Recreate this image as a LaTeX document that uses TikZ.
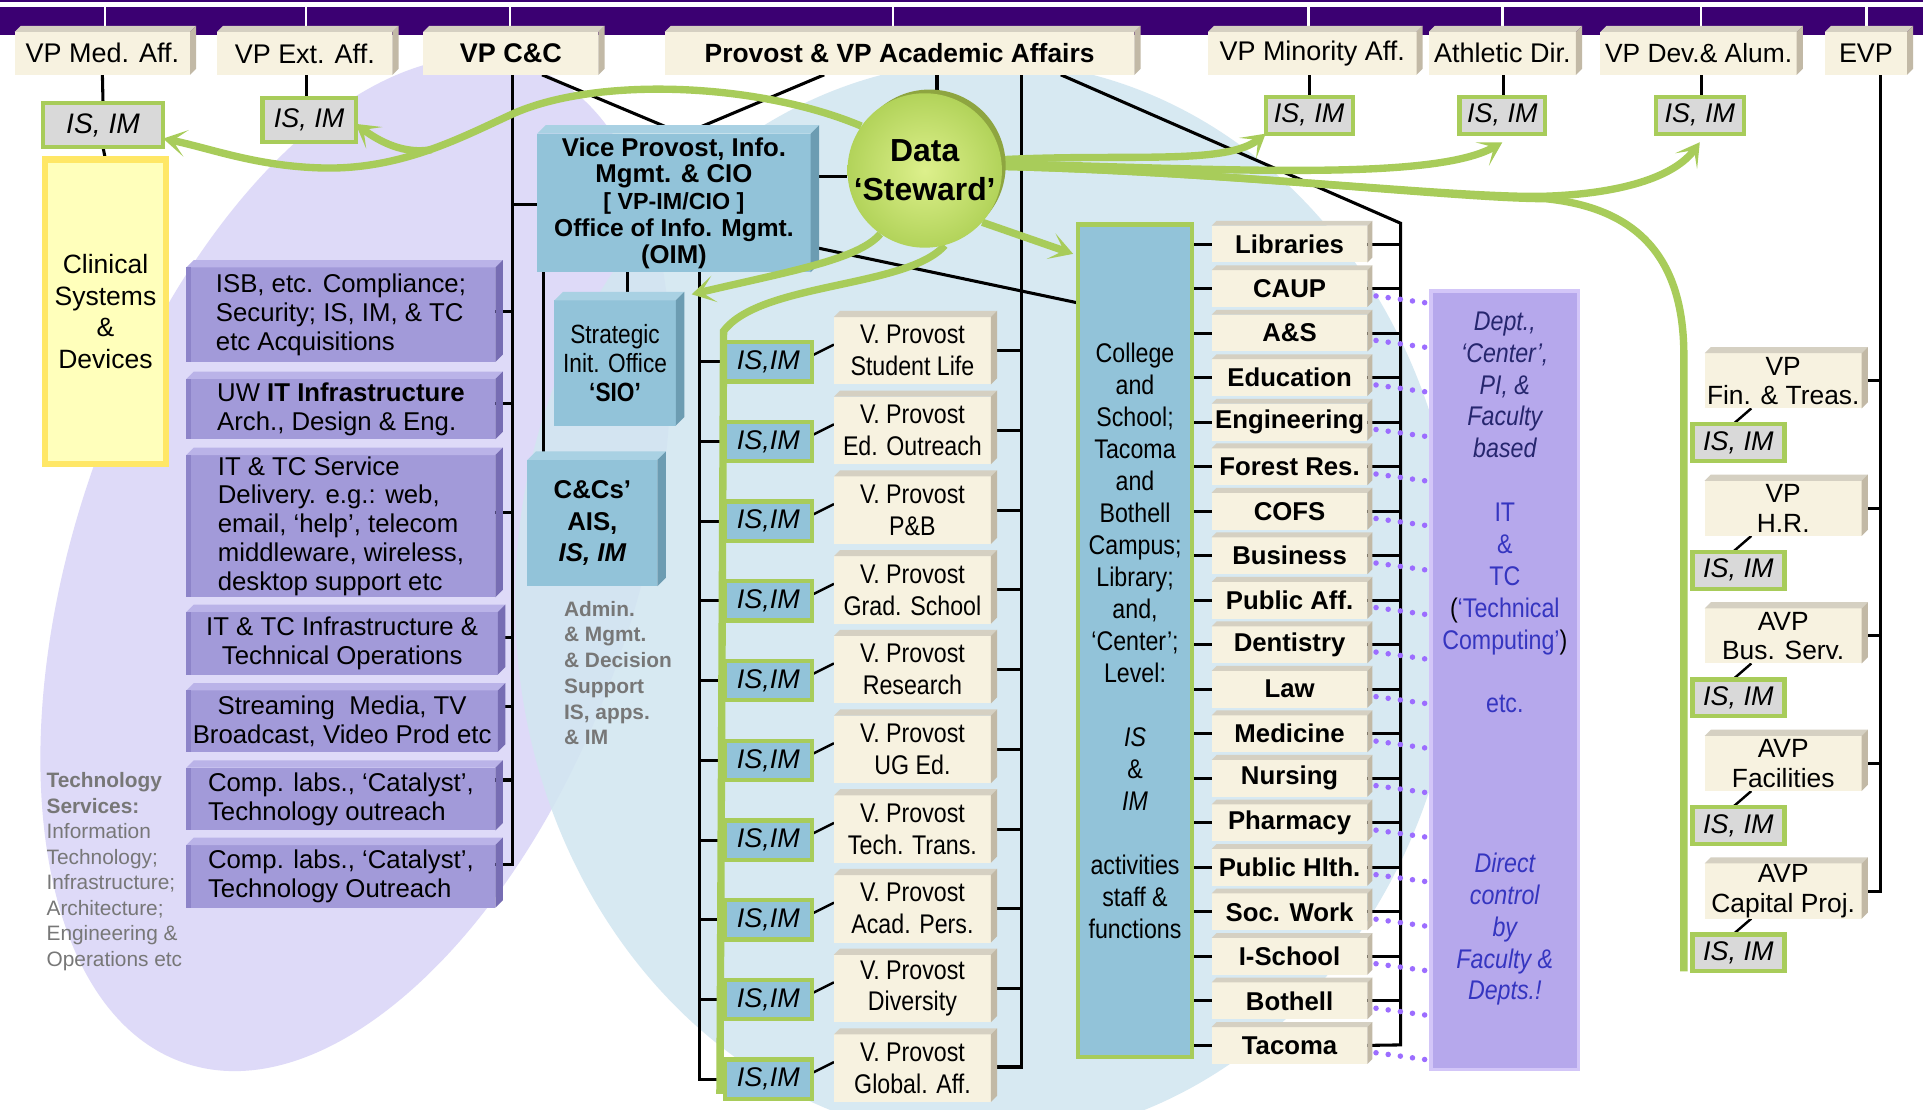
\documentclass[tikz,border=0pt]{standalone}
\usepackage{fontspec}
\setmainfont{Liberation Sans}
\newfontfamily\nar[FakeStretch=0.86]{Liberation Sans}
\usetikzlibrary{arrows.meta,calc}
\pgfdeclarelayer{bg}
\pgfdeclarelayer{lines}
\pgfdeclarelayer{green}
\pgfdeclarelayer{fg}
\pgfsetlayers{bg,lines,main,green,fg}
\definecolor{band}{HTML}{3B0072}
\definecolor{bgfront}{HTML}{F7F2E0}
\definecolor{bgtop}{HTML}{D5D0C2}
\definecolor{bgside}{HTML}{C2B9A6}
\definecolor{pfront}{HTML}{A29AD9}
\definecolor{ptop}{HTML}{BAB3E8}
\definecolor{pside}{HTML}{776DB3}
\definecolor{pleft}{HTML}{8D84C9}
\definecolor{bfront}{HTML}{92C3D9}
\definecolor{btop}{HTML}{A9D1E3}
\definecolor{bside}{HTML}{6C9CB2}
\definecolor{grn}{HTML}{A8CC5A}
\definecolor{isgrey}{HTML}{D9D9D9}
\definecolor{lav}{HTML}{DEDAF8}
\definecolor{lblue}{HTML}{D2E6F1}
\definecolor{pan}{HTML}{B6A8EC}
\definecolor{panb}{HTML}{D3C6F8}
\definecolor{dotc}{HTML}{9C6DFF}
\definecolor{clinf}{HTML}{FFFFBB}
\definecolor{clinb}{HTML}{FFE766}
\definecolor{gtext}{HTML}{777777}
\definecolor{navy}{HTML}{26266E}
\definecolor{tcblue}{HTML}{3535C0}
\definecolor{dsin}{HTML}{DDF08C}
\definecolor{dsout}{HTML}{B2D35A}
\definecolor{dsrim}{HTML}{8EA540}
\newcommand\fsz[2]{\fontsize{#1}{#2}\selectfont}
\newcommand\bx[7]{\node[#1, minimum width={#5-#3}, minimum height={#6-#4}] (#2) at ({(#3+#5)/2},{(#4+#6)/2}) {#7};}
\newcommand\ext[4]{%
  \fill[#3] (#1.north west) -- ++(#2,-#2) -- ($(#1.north east)+(#2,-#2)$) -- (#1.north east) -- cycle;
  \fill[#4] (#1.north east) -- ++(#2,-#2) -- ($(#1.south east)+(#2,-#2)$) -- (#1.south east) -- cycle;}
\tikzset{
  base/.style={inner sep=0pt, outer sep=0pt, align=center},
  beige/.style={base, fill=bgfront},
  topb/.style={beige, font=\fsz{22}{24}},
  isg/.style={base, fill=isgrey, draw=grn, line width=3.5, font=\fsz{22}{24}\itshape},
  isb/.style={base, fill=bfront, draw=grn, line width=3.5, font=\fsz{22}{24}\itshape},
  pbox/.style={base, fill=pfront, font=\fsz{21}{23.5}},
  bbox/.style={base, fill=bfront},
  vpb/.style={beige, font=\nar\fsz{22}{26}},
  dep/.style={beige, font=\fsz{21}{24}\bfseries},
  vpr/.style={beige, font=\fsz{21.5}{24}},
  clin/.style={base, fill=clinf, draw=clinb, line width=5, font=\fsz{21.6}{26}},
  colb/.style={base, fill=bfront, draw=grn, line width=3.5, font=\nar\fsz{22}{26.1}},
  panel/.style={base, fill=pan, draw=panb, line width=3},
  conn/.style={line width=2.5, black},
  gline/.style={grn, line width=6},
  garrow/.style={grn, line width=6, -{Stealth[length=19pt,width=22pt,inset=11pt]}},
  dots/.style={dotc, line width=4.5, line cap=round, dash pattern=on 0pt off 10pt},
  gtxt/.style={inner sep=0pt, outer sep=0pt, align=left, text=gtext, font=\fsz{17}{20.8}},
}
\begin{document}
\begin{tikzpicture}[x=1pt,y=-1pt]
\useasboundingbox (0,0) rectangle (1568,905);
% ---------- background ----------
\begin{pgfonlayer}{bg}
  \fill[white] (0,0) rectangle (1568,905);
  \fill[lav] (290,460) ellipse [x radius=228, y radius=430, rotate=-19];
  \fill[lblue, opacity=0.88] (805,490) ellipse [x radius=385, y radius=440];
  \fill[band] (0,5.5) rectangle (1568,28.5);
  \draw[band, line width=1.5] (0,0.8) -- (1568,0.8);
  \foreach \x in {85.6,249.5,416,728,1067,1225,1387,1522}
    \draw[white, line width=2] (\x,5.5) -- (\x,22);
\end{pgfonlayer}
% ---------- top boxes ----------
\bx{topb}{vpmed}{12}{26}{155}{61}{VP Med. Aff.}
\bx{topb}{vpext}{177}{26}{320}{61}{VP Ext. Aff.}
\bx{topb,font=\fsz{22}{24}\bfseries}{vpcc}{345}{26}{488}{61}{VP C\&C}
\bx{topb,font=\fsz{21.5}{24}\bfseries}{prov}{542}{26}{925}{61}{Provost \& VP Academic Affairs}
\bx{topb}{vpmin}{985}{26}{1155}{61}{VP Minority Aff.}
\bx{topb}{athl}{1165}{26}{1285}{61}{Athletic Dir.}
\bx{topb,font=\fsz{21.5}{24}}{vpdev}{1305}{26}{1465}{61}{VP Dev.\& Alum.}
\bx{topb}{evp}{1488}{26}{1555}{61}{EVP}
\foreach \n in {vpmed,vpext,vpcc,prov,vpmin,athl,vpdev,evp} {\ext{\n}{5}{bgtop}{bgside}}
% ---------- IS IM top ----------
\bx{isg,font=\fsz{23}{24}\itshape}{ismed}{35}{84}{133}{120}{IS, IM}
\bx{isg}{isext}{214}{80}{290}{116}{IS, IM}
\bx{isg}{ismin}{1032}{79}{1103}{109}{IS, IM}
\bx{isg}{isath}{1190}{79}{1260}{109}{IS, IM}
\bx{isg}{isdev}{1350}{79}{1422}{109}{IS, IM}
\bx{clin}{clin}{37}{130}{135}{378}{Clinical\\Systems\\\&\\Devices}
% ---------- purple boxes ----------
\bx{pbox,align=left}{pb1}{152}{218}{404}{295}{ISB, etc. Compliance;\\Security; IS, IM, \& TC\\etc Acquisitions}
\bx{pbox,align=left}{pb2}{152}{309}{404}{358}{UW \textbf{IT Infrastructure}\\Arch., Design \& Eng.}
\bx{pbox,align=left}{pb3}{152}{371}{404}{487}{IT \& TC Service\\Delivery. e.g.: web,\\email, ‘help’, telecom\\middleware, wireless,\\desktop support etc}
\bx{pbox}{pb4}{152}{499}{406}{550}{IT \& TC Infrastructure \&\\Technical Operations}
\bx{pbox}{pb5}{152}{563}{406}{613}{Streaming\ \ Media, TV\\Broadcast, Video Prod etc}
\bx{pbox,align=left}{pb6}{152}{626}{404}{677}{Comp. labs., ‘Catalyst’,\\Technology outreach}
\bx{pbox,align=left}{pb7}{152}{689}{404}{740}{Comp. labs., ‘Catalyst’,\\Technology Outreach}
\foreach \n in {pb1,pb2,pb3,pb4,pb5,pb6,pb7} {\ext{\n}{6}{ptop}{pside}
  \fill[pleft] (\n.north west) rectangle ($(\n.south west)+(4,0)$);}
% ---------- blue boxes ----------
\bx{bbox,font=\fsz{21}{21.8}\bfseries}{oim}{438}{109}{661}{222}{Vice Provost, Info.\\Mgmt. \& CIO\\{\fsz{19}{21.8}[ VP-IM/CIO ]}\\{\fsz{20}{21.8}Office of Info. Mgmt.}\\(OIM)}
\bx{bbox,font=\nar\fsz{21.5}{23.5}}{sio}{452}{245}{551}{347}{Strategic\\Init. Office\\{\bfseries ‘SIO’}}
\bx{bbox,font=\fsz{21}{26}\bfseries}{ccs}{430}{375}{536}{478}{C\&Cs’\\AIS,\\{\itshape IS, IM}}
\foreach \n in {oim,sio,ccs} {\ext{\n}{7}{btop}{bside}}
\node[gtxt, font=\fsz{17}{21}\bfseries, anchor=north west] (admin) at (460,490) {Admin.\\\& Mgmt.\\\& Decision\\Support\\IS, apps.\\\& IM};
\node[gtxt, anchor=north west] (techsvc) at (38,630) {{\bfseries Technology}\\{\bfseries Services:}\\Information\\Technology;\\Infrastructure;\\Architecture;\\Engineering \&\\Operations etc};
% ---------- V. Provost column ----------
\foreach \i/\t in {0/Student Life,1/Ed. Outreach,2/P\&B,3/Grad. School,4/Research,5/UG Ed.,6/Tech. Trans.,7/Acad. Pers.,8/Diversity,9/Global. Aff.} {
  \pgfmathsetmacro\yc{285+65*\i}
  \node[vpb, minimum width=128, minimum height=55] (vp\i) at (744,\yc+1) {V. Provost\\\t};
  \ext{vp\i}{5}{bgtop}{bgside}
  \node[isb, minimum width=71, minimum height=32] (isv\i) at (626.5,\yc+10) {IS,IM};
}
% ---------- college / departments ----------
\bx{colb}{col}{879}{183}{972}{862}{College\\and\\School;\\Tacoma\\and\\Bothell\\Campus;\\Library;\\and,\\‘Center’;\\Level:\\[26pt]{\itshape IS}\\\&\\{\itshape IM}\\[26pt]activities\\staff \&\\functions}
\foreach \j/\t in {0/Libraries,1/CAUP,2/A\&S,3/Education,4/Engineering,5/Forest Res.,6/COFS,7/Business,8/Public Aff.,9/Dentistry,10/Law,11/Medicine,12/Nursing,13/Pharmacy,14/Public Hlth.,15/Soc. Work,16/I-School,17/Bothell,18/Tacoma} {
  \pgfmathsetmacro\yd{199+36.3*\j}
  \node[dep, minimum width=127, minimum height=30] (dep\j) at (1051.5,\yd) {\t};
  \ext{dep\j}{4}{bgtop}{bgside}
}
\node[panel, minimum width=120, minimum height=635] (panel) at (1227,554.5) {};
\node[inner sep=0pt, align=center, font=\nar\fsz{22}{26}] (paneltxt) at (1227,254) [anchor=north]
  {{\color{navy}\itshape Dept.,}\\{\color{navy}\itshape ‘Center’,}\\{\color{navy}\itshape PI, \&}\\{\color{navy}\itshape Faculty}\\{\color{navy}\itshape based}\\[26pt]
   {\color{tcblue}IT}\\{\color{tcblue}\&}\\{\color{tcblue}TC}\\({\color{tcblue}‘Technical}\\{\color{tcblue}Computing’})\\[26pt]
   {\color{tcblue}etc.}\\[104pt]
   {\color{tcblue}\itshape Direct}\\{\color{tcblue}\itshape control}\\{\color{tcblue}\itshape by}\\{\color{tcblue}\itshape Faculty \&}\\{\color{tcblue}\itshape Depts.!}};
% ---------- right VP column ----------
\foreach \k/\a/\b/\yy in {0/VP/Fin. \& Treas./308,1/VP/H.R./412,2/AVP/Bus. Serv./516,3/AVP/Facilities/620,4/AVP/Capital Proj./724} {
  \node[vpr, minimum width=128, minimum height=45] (vpr\k) at (1454,\yy+2.5) {\a\\\b};
  \ext{vpr\k}{5}{bgtop}{bgside}
  \node[isg, minimum width=75, minimum height=30] (isr\k) at (1417.5,\yy+53) {IS, IM};
}
% ---------- Data Steward ----------
\begin{pgfonlayer}{fg}
  \coordinate (dsc) at (754,139);
  \fill[dsrim] ($(dsc)+(4,-4)$) circle (62);
  \node[circle, minimum size=122, inner sep=0pt, shade, inner color=dsin, outer color=dsout, font=\fsz{26}{32}\bfseries, align=center] (ds) at (dsc) {Data\\‘Steward’};
\end{pgfonlayer}
% ---------- black connectors ----------
\begin{pgfonlayer}{lines}
  \draw[conn] (vpmed.south) -- (ismed.north);
  \draw[conn] (ismed.south) -- (clin.north);
  \draw[conn] (vpext.south -| 250,0) -- (isext.north -| 250,0);
  \draw[conn] (vpmin.south -| 1068,0) -- (ismin.north -| 1068,0);
  \draw[conn] (athl.south -| 1226,0) -- (isath.north -| 1226,0);
  \draw[conn] (vpdev.south -| 1387,0) -- (isdev.north -| 1387,0);
  % VP C&C trunk
  \draw[conn] (vpcc.south -| 418,0) -- (418,705) -- (pb7.east |- 0,705);
  \foreach \n/\y in {pb1/254,pb2/329,pb3/418,pb4/520,pb5/576,pb6/636} \draw[conn] (\n.east |- 0,\y) -- (418,\y);
  \draw[conn] (418,167) -- (oim.west |- 0,167);
  \draw[conn] (vpcc.south -| 442,0) -- (542,103);
  \draw[conn] (oim.south -| 443,0) -- (ccs.north -| 443,0);
  \draw[conn] (oim.south -| 512,0) -- ($(sio.north -| 512,0)+(0,-7)$);
  % Provost
  \draw[conn] (prov.south -| 672,0) -- (570,104);
  \draw[conn] (prov.south -| 764,0) -- (ds.north -| 764,0);
  \draw[conn] (oim.east |- 0,144) -- (ds.west |- 0,144);
  \draw[conn] (oim.east |- 0,201) -- (col.west |- 0,247);
  \draw[conn] (prov.south -| 833,0) -- (833,870) -- (vp9.east |- 0,870);
  \foreach \i in {0,...,8} \draw[conn] (vp\i.east) -- (vp\i.east -| 833,0);
  \draw[conn] (oim.south -| 570,0) -- (570,880) -- (isv9.west);
  \foreach \i in {0,...,8} \draw[conn] (isv\i.west -| 570,0) -- (isv\i.west);
  \foreach \i in {0,...,9} \draw[conn, line width=2] ([yshift=5pt]isv\i.east) -- ([yshift=5pt]vp\i.west);
  % departments
  \draw[conn] (prov.south -| 865,0) -- (1142,182) -- (1142,852) -- (dep18.east);
  \foreach \j in {0,...,17} \draw[conn] (dep\j.east) -- (dep\j.east -| 1142,0);
  \foreach \j in {0,...,18} \draw[conn] (dep\j.west -| col.east) -- (dep\j.west);
  \foreach \j in {1,...,18} \draw[dots] ($(dep\j.east)+(7,6)$) -- ($(dep\j.east)+(72,15)$);
  % EVP
  \draw[conn] (evp.south -| 1533,0) -- (1533,727) -- (vpr4.east |- 0,727);
  \foreach \k in {0,...,3} \draw[conn] (vpr\k.east) -- (vpr\k.east -| 1533,0);
  \foreach \k in {0,...,4} \draw[conn, line width=2] (vpr\k.south -| 1428,0) -- (isr\k.north -| 1413,0);
\end{pgfonlayer}
% ---------- green data stewardship paths ----------
\begin{pgfonlayer}{green}
  \draw[garrow] (ds.145) .. controls (620,68) and (490,62) .. (420,92) .. controls (380,110) and (330,138) .. (265,137) .. controls (210,136) and (172,121) .. (ismed.east |- 0,113);
  \draw[garrow] (352,122) .. controls (330,126) and (310,116) .. (isext.east |- 0,101);
  \draw[garrow] (ds.235) .. controls (700,212) and (640,222) .. (564,240);
  \draw[gline] (ds.285) .. controls (740,235) and (620,230) .. (590,270) -- (587,892);
  \draw[garrow] (ds.318) -- ($(col.north west)+(-4,24)$);
  \draw[garrow] (ds.8) .. controls (920,125) and (1000,135) .. (ismin.south west);
  \draw[garrow] (ds.5) .. controls (1000,138) and (1170,148) .. (isath.south |- 0,116);
  \draw[garrow] (ds.3) .. controls (1000,140) and (1190,162) .. (1260,160) .. controls (1320,158) and (1365,145) .. (isdev.south |- 0,116);
  \draw[gline] (ds.3) .. controls (1000,140) and (1190,162) .. (1260,162) .. controls (1340,170) and (1373,215) .. (1373,290) -- (1373,792);
\end{pgfonlayer}
\end{tikzpicture}
\end{document}
